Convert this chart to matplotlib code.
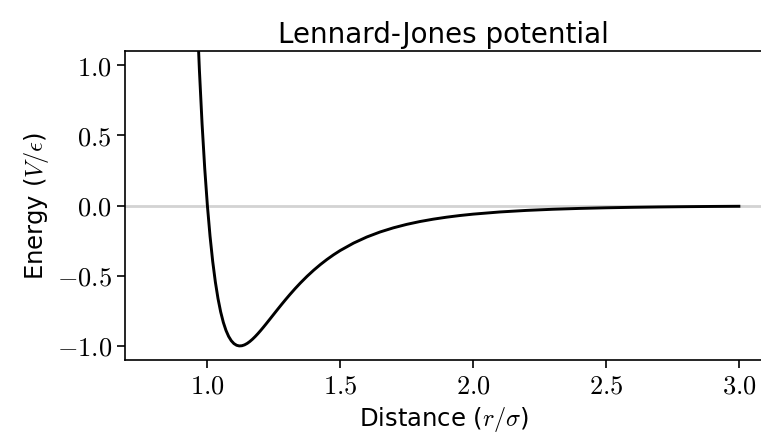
import matplotlib
matplotlib.use("Agg")
import matplotlib.pyplot as plt
from matplotlib.ticker import FuncFormatter, MultipleLocator

# Values
distance = [0.95, 0.96, 0.97, 0.98, 0.99, 1.00, 1.01, 1.02, 1.03, 1.04, 1.05,
            1.06, 1.07, 1.08, 1.09, 1.10, 1.11, 1.12, 1.13, 1.14, 1.15, 1.16,
            1.17, 1.18, 1.19, 1.20, 1.21, 1.22, 1.235, 1.25, 1.265, 1.28,
            1.295, 1.31, 1.33, 1.35, 1.375, 1.40, 1.425, 1.45, 1.475, 1.50,
            1.55, 1.60, 1.65, 1.70, 1.75, 1.80, 1.85, 1.90, 1.95, 2.00, 2.10,
            2.20, 2.30, 2.40, 2.50, 2.60, 2.70, 2.80, 2.90, 3.00]
energy = [1.961, 1.418, 0.963, 0.582, 0.264, 0.0, -0.2184, -0.3979, -0.5444,
          -0.6629, -0.7575, -0.8320, -0.8893, -0.9322, -0.9629, -0.9834,
          -0.9952, -0.9998, -0.9984, -0.9921, -0.9817, -0.9679, -0.9514,
          -0.9329, -0.9126, -0.8910, -0.8684, -0.8452, -0.8096, -0.7737,
          -0.7379, -0.7027, -0.6683, -0.6349, -0.5921, -0.5516, -0.5043,
          -0.4607, -0.4207, -0.3841, -0.3507, -0.3203, -0.2677, -0.2242,
          -0.1884, -0.1589, -0.1344, -0.1141, -0.0973, -0.0832, -0.0714,
          -0.0615, -0.0461, -0.0350, -0.0268, -0.0208, -0.0163, -0.0129,
          -0.0103, -0.0083, -0.0067, -0.0055]

plt.rcParams['mathtext.fontset'] = 'cm'
plt.rcParams['font.family'] = ['DejaVu Sans']

fig = plt.figure(figsize=(7.61, 4.40), dpi=100)
ax = fig.add_axes([125/761, 80/440, 1 - 125/761 + 0.002, (360-51)/440])

ax.axhline(0, color='lightgray', lw=2, zorder=1)
ax.plot(distance, energy, color='black', lw=2.1, zorder=2)

ax.set_xlim(0.69, 3.089)
ax.set_ylim(-1.1, 1.1)
ax.xaxis.set_major_locator(MultipleLocator(0.5))
ax.yaxis.set_major_locator(MultipleLocator(0.5))
fmt = FuncFormatter(lambda v, p: r'$%.1f$' % v)
ax.xaxis.set_major_formatter(fmt)
ax.yaxis.set_major_formatter(fmt)
ax.tick_params(labelsize=19, length=6, width=1.2)
for s in ax.spines.values():
    s.set_linewidth(1.2)
ax.spines['right'].set_visible(False)

ax.set_title('Lennard-Jones potential', fontsize=20, pad=6)
ax.set_xlabel(r'Distance ($r/\sigma$)', fontsize=17.5, labelpad=4)
ax.set_ylabel(r'Energy ($V/\epsilon$)', fontsize=17.5, labelpad=4)

fig.savefig('out.png', dpi=100)
